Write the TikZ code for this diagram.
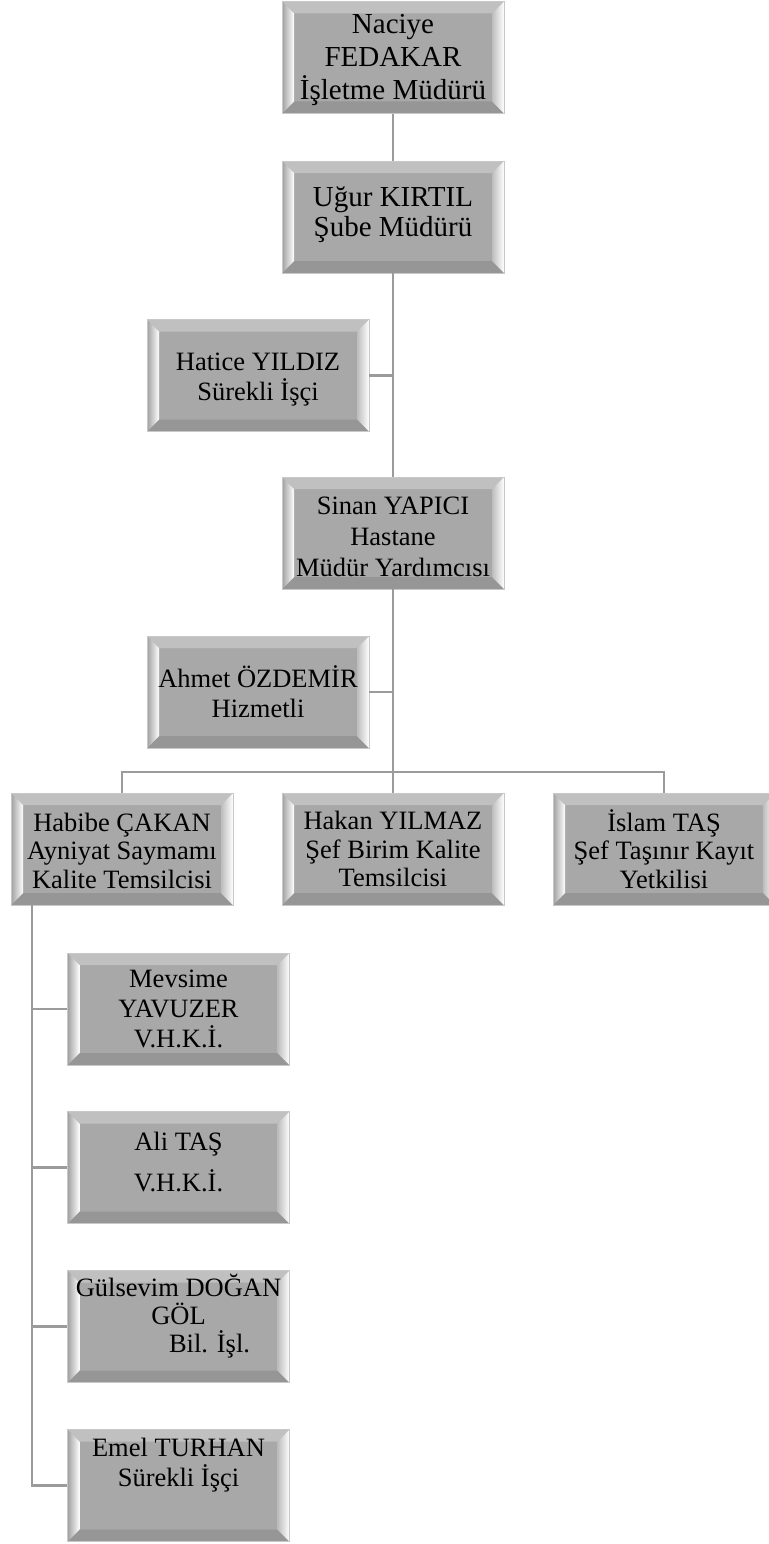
\documentclass[tikz,border=0pt]{standalone}
\usepackage{fontspec}
\setmainfont{Liberation Serif}

\definecolor{facegray}{RGB}{168,168,168}
\definecolor{bevtop}{RGB}{192,192,192}
\definecolor{bevbot}{RGB}{150,150,150}
\definecolor{bevside}{RGB}{160,160,160}
\definecolor{rimgray}{RGB}{200,200,200}
\definecolor{linkgray}{RGB}{155,155,155}

\tikzset{every picture/.style={line width=0.75pt}}
\tikzset{
  orgbox/.style={minimum width=222, minimum height=112, inner sep=0pt, align=center,
    font=\fontsize{26.5}{30}\selectfont},
  link/.style={draw=linkgray, line width=2.2pt},
}

% bevelled gray box under a named node: [node options]{name}{x}{y}{text}
\newcommand{\orgunit}[5][]{%
  \fill[facegray] ({#3-111},{#4-56}) rectangle ({#3+111},{#4+56});
  \fill[bevtop] ({#3-111},{#4-56}) -- ({#3+111},{#4-56}) -- ({#3+99},{#4-44}) -- ({#3-99},{#4-44}) -- cycle;
  \fill[bevbot] ({#3-111},{#4+56}) -- ({#3+111},{#4+56}) -- ({#3+99},{#4+44}) -- ({#3-99},{#4+44}) -- cycle;
  \shade[left color=bevside, right color=white] ({#3-111},{#4-56}) -- ({#3-99},{#4-44}) -- ({#3-99},{#4+44}) -- ({#3-111},{#4+56}) -- cycle;
  \shade[left color=bevside!70!white, right color=white] ({#3+111},{#4-56}) -- ({#3+99},{#4-44}) -- ({#3+99},{#4+44}) -- ({#3+111},{#4+56}) -- cycle;
  \draw[rimgray] ({#3-111},{#4-56}) rectangle ({#3+111},{#4+56});
  \node[orgbox,#1] (#2) at (#3,#4) {#5};
}

\begin{document}
\begin{tikzpicture}[x=1pt,y=1pt,yscale=-1,xscale=1]
\useasboundingbox (0,0) rectangle (768,1544);

% top of the chain
\orgunit[font=\fontsize{29}{33}\selectfont]{nac}{393}{57.5}{\rule{0pt}{23.5pt}Naciye\\FEDAKAR\\İşletme Müdürü}
\orgunit[font=\fontsize{29}{30}\selectfont]{ugur}{393}{217}{Uğur KIRTIL\\Şube Müdürü\rule[-10pt]{0pt}{10pt}}
\orgunit{hat}{258}{375.5}{\rule{0pt}{25pt}Hatice YILDIZ\\Sürekli İşçi}
\orgunit[font=\fontsize{26.5}{31}\selectfont]{sin}{393}{533}{\rule{0pt}{25pt}Sinan YAPICI\\Hastane\\Müdür Yardımcısı}
\orgunit{ahm}{258}{692}{Ahmet ÖZDEMİR\\Hizmetli}

% row of three
\orgunit[font=\fontsize{26.5}{28.5}\selectfont]{hab}{122}{849}{\rule{0pt}{22pt}Habibe ÇAKAN\\Ayniyat Saymamı\\Kalite Temsilcisi}
\orgunit[font=\fontsize{26.5}{28.5}\selectfont]{hak}{393}{849}{Hakan YILMAZ\\Şef Birim Kalite\\Temsilcisi}
\orgunit[font=\fontsize{26.5}{28.5}\selectfont]{isl}{664}{849}{İslam TAŞ\\Şef Taşınır Kayıt\\Yetkilisi}

% under Habibe
\orgunit{mev}{178.5}{1009}{Mevsime\\YAVUZER\\V.H.K.İ.}
\orgunit{ali}{178.5}{1167.5}{Ali TAŞ\\[11pt]V.H.K.İ.\rule[-11pt]{0pt}{11pt}}
\orgunit[font=\fontsize{26.5}{28}\selectfont]{gul}{178.5}{1326.5}{Gülsevim DOĞAN\\GÖL\\\hspace*{62pt}Bil. İşl.\rule[-27pt]{0pt}{27pt}}
\orgunit{emel}{178.5}{1485.5}{\rule{0pt}{23pt}Emel TURHAN\\Sürekli İşçi\rule[-52pt]{0pt}{52pt}}

% connectors
\coordinate (bar) at (393,772);
\coordinate (spine) at (32,0);
\draw[link] (nac.south) -- (ugur.north);
\draw[link] (ugur.south) -- (sin.north);
\draw[link] (hat.east) -- (hat.east -| ugur.south);
\draw[link] (sin.south) -- (bar);
\draw[link] (ahm.east) -- (ahm.east -| sin.south);
\draw[link] (hab.north) |- (bar) -| (isl.north);
\draw[link] (bar) -- (hak.north);
\draw[link] (spine |- hab.south) -- (spine |- emel.west) -- (emel.west);
\foreach \kid in {mev,ali,gul}
  \draw[link] (spine |- \kid.west) -- (\kid.west);

\end{tikzpicture}
\end{document}
